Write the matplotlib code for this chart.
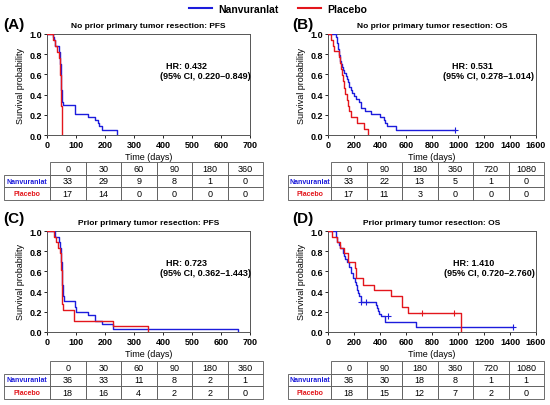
import matplotlib.pyplot as plt
from matplotlib.lines import Line2D

plt.rcParams['font.family'] = ['Liberation Sans', 'DejaVu Sans']
plt.rcParams['font.weight'] = 'bold'

BLUE = '#1c1cdc'
RED = '#e3161c'

# ---- Kaplan-Meier step data ----
# (A) No prior resection: PFS
a_nv_t = [0, 20, 24, 28, 40, 42, 44, 46, 48, 49, 50, 52, 55, 97, 140, 165, 175, 180, 188, 240]
a_nv_s = [1.0, 0.97, 0.94, 0.88, 0.85, 0.82, 0.76, 0.70, 0.60, 0.45, 0.36, 0.33, 0.30, 0.21, 0.18, 0.15, 0.12, 0.09, 0.05, 0.0]
a_pl_t = [0, 22, 28, 33, 40, 44, 46, 47, 48, 49, 50, 52]
a_pl_s = [1.0, 0.94, 0.88, 0.82, 0.76, 0.71, 0.59, 0.47, 0.35, 0.29, 0.18, 0.0]

# (B) No prior resection: OS
b_nv_t = [0, 62, 70, 78, 86, 94, 102, 110, 118, 126, 135, 145, 155, 165, 175, 185, 200, 215, 235,
          255, 285, 330, 400, 427, 440, 455, 520, 980]
b_nv_s = [1.0, 0.97, 0.91, 0.85, 0.79, 0.73, 0.70, 0.67, 0.64, 0.61, 0.58, 0.55, 0.52, 0.48, 0.45,
          0.42, 0.39, 0.36, 0.33, 0.27, 0.24, 0.21, 0.18, 0.15, 0.12, 0.09, 0.05, 0.05]
b_pl_t = [0, 26, 35, 45, 85, 95, 102, 108, 115, 125, 133, 146, 154, 160, 178, 220, 274, 305]
b_pl_s = [1.0, 0.94, 0.88, 0.83, 0.77, 0.71, 0.65, 0.59, 0.53, 0.47, 0.41, 0.35, 0.29, 0.24, 0.18, 0.12, 0.06, 0.0]
b_nv_cens_t = [980]
b_nv_cens_s = [0.05]

# (C) Prior resection: PFS
c_nv_t = [0, 28, 43, 45, 47, 49, 51, 53, 55, 57, 97, 100, 143, 166, 189, 229, 657]
c_nv_s = [1.0, 0.94, 0.89, 0.83, 0.78, 0.69, 0.58, 0.47, 0.36, 0.31, 0.25, 0.20, 0.17, 0.11, 0.08, 0.03, 0.0]
c_pl_t = [0, 24, 31, 39, 45, 48, 50, 52, 54, 94, 228, 347]
c_pl_s = [1.0, 0.94, 0.89, 0.83, 0.78, 0.61, 0.44, 0.28, 0.22, 0.11, 0.06, 0.0]

# (D) Prior resection: OS
d_nv_t = [0, 61, 69, 82, 95, 113, 123, 133, 146, 159, 179, 192, 205, 218, 225, 230, 241, 256,
          369, 376, 384, 394, 410, 440, 676, 701, 1420]
d_nv_s = [1.0, 0.94, 0.89, 0.86, 0.83, 0.78, 0.75, 0.72, 0.69, 0.64, 0.58, 0.53, 0.50, 0.47, 0.42,
          0.39, 0.36, 0.30, 0.27, 0.24, 0.21, 0.18, 0.16, 0.10, 0.05, 0.05, 0.05]
d_pl_t = [0, 31, 69, 95, 120, 154, 205, 218, 266, 356, 486, 573, 614, 1025]
d_pl_s = [1.0, 0.94, 0.89, 0.83, 0.78, 0.69, 0.63, 0.53, 0.47, 0.42, 0.36, 0.25, 0.19, 0.0]
d_nv_cens_t = [252, 290, 458, 1420]
d_nv_cens_s = [0.30, 0.30, 0.16, 0.05]
d_pl_cens_t = [723, 970]
d_pl_cens_s = [0.19, 0.19]

# ---- numbers at risk ----
pfs_times = [0, 30, 60, 90, 180, 360]
os_times = [0, 90, 180, 360, 720, 1080]
a_nv_risk = [33, 29, 9, 8, 1, 0]
a_pl_risk = [17, 14, 0, 0, 0, 0]
b_nv_risk = [33, 22, 13, 5, 1, 0]
b_pl_risk = [17, 11, 3, 0, 0, 0]
c_nv_risk = [36, 33, 11, 8, 2, 1]
c_pl_risk = [18, 16, 4, 2, 2, 0]
d_nv_risk = [36, 30, 18, 8, 1, 1]
d_pl_risk = [18, 15, 12, 7, 2, 0]

titles = ['No prior primary tumor resection: PFS', 'No prior primary tumor resection: OS',
          'Prior primary tumor resection: PFS', 'Prior primary tumor resection: OS']
hr_lines = [('HR: 0.432', '(95% CI, 0.220\u20130.849)'),
            ('HR: 0.531', '(95% CI, 0.278\u20131.014)'),
            ('HR: 0.723', '(95% CI, 0.362\u20131.443)'),
            ('HR: 1.410', '(95% CI, 0.720\u20132.760)')]
letters = ['(A)', '(B)', '(C)', '(D)']

W, H = 550, 406


def box(l, t, r, b):
    return [l / W, 1 - b / H, (r - l) / W, (b - t) / H]


fig = plt.figure(figsize=(5.5, 4.06), dpi=100)

panels = [
    dict(ax=(47, 35, 250, 136), tab=(4, 163, 263, 201), letter_xy=(3, 25), xmax=700, xstep=100,
         nv=(a_nv_t, a_nv_s), pl=(a_pl_t, a_pl_s), nvc=([], []), plc=([], []),
         times=pfs_times, nvr=a_nv_risk, plr=a_pl_risk, hr_x=(410, 388)),
    dict(ax=(328, 35, 536, 136), tab=(288, 163, 544, 201), letter_xy=(292, 25), xmax=1600, xstep=200,
         nv=(b_nv_t, b_nv_s), pl=(b_pl_t, b_pl_s), nvc=(b_nv_cens_t, b_nv_cens_s), plc=([], []),
         times=os_times, nvr=b_nv_risk, plr=b_pl_risk, hr_x=(955, 885)),
    dict(ax=(47, 232, 250, 333), tab=(4, 362, 263, 400), letter_xy=(3, 219), xmax=700, xstep=100,
         nv=(c_nv_t, c_nv_s), pl=(c_pl_t, c_pl_s), nvc=([], []), plc=([], []),
         times=pfs_times, nvr=c_nv_risk, plr=c_pl_risk, hr_x=(410, 388)),
    dict(ax=(328, 232, 536, 333), tab=(288, 362, 544, 400), letter_xy=(292, 219), xmax=1600, xstep=200,
         nv=(d_nv_t, d_nv_s), pl=(d_pl_t, d_pl_s), nvc=(d_nv_cens_t, d_nv_cens_s),
         plc=(d_pl_cens_t, d_pl_cens_s),
         times=os_times, nvr=d_nv_risk, plr=d_pl_risk, hr_x=(962, 893)),
]

for i, p in enumerate(panels):
    ax = fig.add_axes(box(*p['ax']))
    ax.step(p['nv'][0], p['nv'][1], where='post', color=BLUE, lw=1.0, zorder=3)
    ax.step(p['pl'][0], p['pl'][1], where='post', color=RED, lw=1.0, zorder=3)
    if p['nvc'][0]:
        ax.plot(p['nvc'][0], p['nvc'][1], '+', color=BLUE, ms=4, mew=0.8, zorder=4)
    if p['plc'][0]:
        ax.plot(p['plc'][0], p['plc'][1], '+', color=RED, ms=4, mew=0.8, zorder=4)
    ax.set_xlim(0, p['xmax'])
    ax.set_ylim(0, 1.0)
    ax.set_xticks(range(0, p['xmax'] + 1, p['xstep']))
    ax.set_yticks([0, 0.2, 0.4, 0.6, 0.8, 1.0])
    ax.set_yticklabels(['0.0', '0.2', '0.4', '0.6', '0.8', '1.0'])
    ax.tick_params(labelsize=6.5, length=2, width=0.6, pad=1.5)
    for sp in ax.spines.values():
        sp.set_linewidth(0.7)
        sp.set_color('#555555')
    ax.set_title(titles[i], fontsize=6, fontweight='bold', pad=5)
    ax.set_xlabel('Time (days)', fontsize=6.5, labelpad=2)
    ax.set_ylabel('Survival probability', fontsize=6.5, labelpad=3)
    ax.text(p['hr_x'][0], 0.69, hr_lines[i][0], fontsize=6.5, va='center')
    ax.text(p['hr_x'][1], 0.59, hr_lines[i][1], fontsize=6.5, va='center')
    lx, ly = p['letter_xy']
    fig.text(lx / W, 1 - ly / H, letters[i], fontsize=11, fontweight='bold', va='center')

    # number-at-risk table
    tax = fig.add_axes(box(*p['tab']))
    tax.axis('off')
    cells = [[''] + [str(t) for t in p['times']],
             ['Nanvuranlat'] + [str(v) for v in p['nvr']],
             ['Placebo'] + [str(v) for v in p['plr']]]
    lw_lab = p['ax'][0] + 3 - p['tab'][0]
    widths = [lw_lab] + [(p['tab'][2] - p['tab'][0] - lw_lab) / 6] * 6
    tbl = tax.table(cellText=cells, cellLoc='center', bbox=[0, 0, 1, 1], colWidths=widths)
    tbl.auto_set_font_size(False)
    tbl.set_fontsize(6.5)
    for (r, c), cell in tbl.get_celld().items():
        cell.set_linewidth(0.6)
        cell.set_edgecolor('#555555')
        cell.get_text().set_fontweight('normal')
        if r == 0 and c == 0:
            cell.visible_edges = 'open'
        if c == 0 and r > 0:
            cell.get_text().set_fontsize(5)
            cell.get_text().set_fontweight('bold')
            cell.get_text().set_color(BLUE if r == 1 else RED)

handles = [Line2D([], [], color=BLUE, lw=1.5), Line2D([], [], color=RED, lw=1.5)]
fig.legend(handles, ['Nanvuranlat', 'Placebo'], loc='center', bbox_to_anchor=(278 / W, 1 - 10 / H),
           ncol=2, frameon=False, fontsize=7.5, handlelength=2.2, columnspacing=1.8, handletextpad=0.6)

fig.savefig('out.png', dpi=100)
